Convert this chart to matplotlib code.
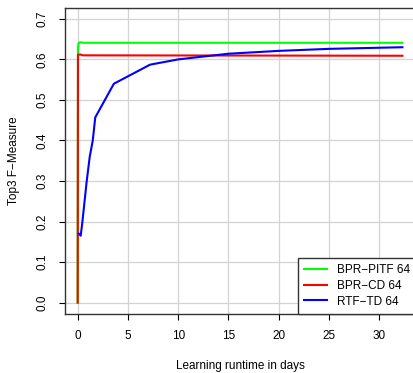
import matplotlib
matplotlib.use("Agg")
import matplotlib.pyplot as plt

plt.rcParams['font.family'] = ['Liberation Sans', 'DejaVu Sans']

# learning runtime (days) vs top3 F-measure
pitf_days = [0.0, 0.03, 0.1, 0.3, 0.6, 32.3]
pitf_f = [0.0, 0.630, 0.641, 0.642, 0.641, 0.641]

cd_days = [0.0, 0.03, 0.1, 0.3, 0.5, 32.3]
cd_f = [0.0, 0.611, 0.612, 0.612, 0.610, 0.609]

rtf_days = [0.12, 0.3, 0.45, 0.9, 1.2, 1.5, 1.75, 3.6, 7.2, 10.0, 15.0, 20.0, 25.0, 32.3]
rtf_f = [0.17, 0.165, 0.195, 0.30, 0.36, 0.40, 0.457, 0.54, 0.587, 0.600, 0.614, 0.621, 0.626, 0.630]

labels = ["BPR\u2212PITF 64", "BPR\u2212CD 64", "RTF\u2212TD 64"]
xticks = [0, 5, 10, 15, 20, 25, 30]
yticks = [0.0, 0.1, 0.2, 0.3, 0.4, 0.5, 0.6, 0.7]

W, H = 414, 373
fig = plt.figure(figsize=(W / 100, H / 100), dpi=100)
ax = fig.add_axes([64.7 / W, (H - 314) / H, (415.5 - 64.7) / W, (314 - 7.5) / H])

for t in xticks:
    ax.axvline(t, color='#d3d3d3', lw=0.9, zorder=0)
for t in yticks:
    ax.axhline(t, color='#d3d3d3', lw=0.9, zorder=0)

ax.plot(pitf_days, pitf_f, color='#00ff00', lw=1.5, label=labels[0])
ax.plot(cd_days, cd_f, color='#ff0000', lw=1.5, label=labels[1])
ax.plot(rtf_days, rtf_f, color='#0000ff', lw=1.5, label=labels[2])

ax.set_xlim(-1.29, 33.6)
ax.set_ylim(-0.028, 0.728)
ax.set_xticks(xticks)
ax.set_yticks(yticks)
ax.set_xticklabels([str(t) for t in xticks])
ax.set_yticklabels(["%.1f" % t for t in yticks], rotation=90, va='center')
ax.tick_params(direction='out', length=4.5, width=0.8, labelsize=8.5, pad=7)
ax.tick_params(axis='y', pad=7)
for s in ['left', 'top', 'bottom', 'right']:
    ax.spines[s].set_color('#333333')
    ax.spines[s].set_linewidth(1.0)

ax.set_xlabel("Learning runtime in days", fontsize=8.5, labelpad=13)
ax.set_ylabel("Top3 F\u2212Measure", fontsize=8.5, labelpad=12)

leg = ax.legend(loc='lower left', bbox_to_anchor=((21.9 + 1.29) / 34.89, 0.0),
                borderaxespad=0, fancybox=False, framealpha=1, edgecolor='#333333',
                fontsize=8.5, handlelength=1.9, handletextpad=0.9, labelspacing=0.3,
                borderpad=0.55)
leg.get_frame().set_linewidth(1.0)

fig.savefig("out.png", dpi=100)
